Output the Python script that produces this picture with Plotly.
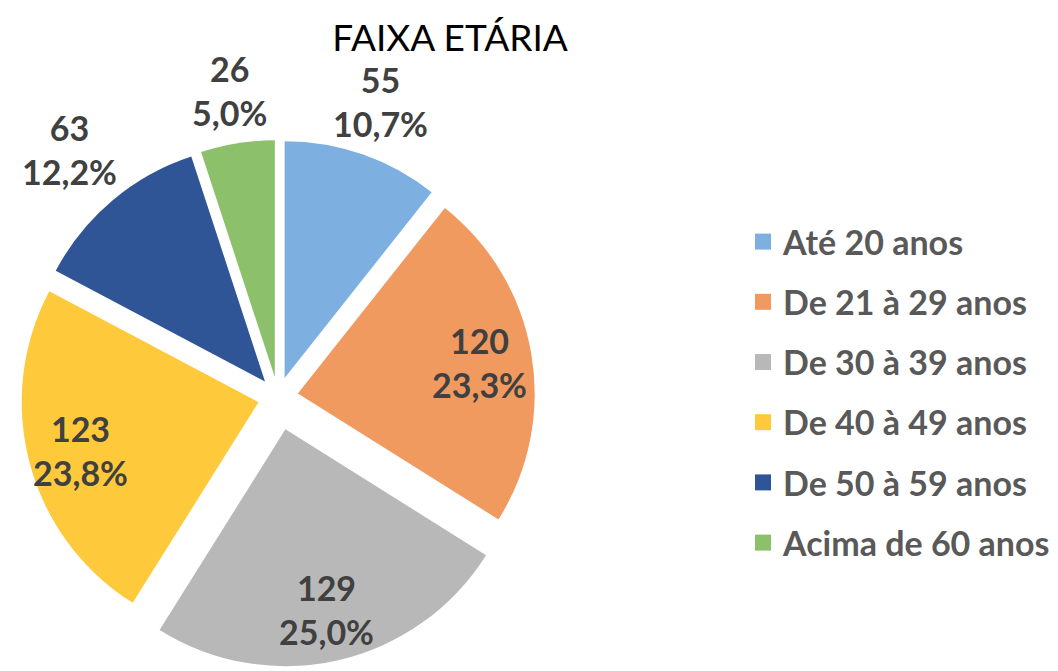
import math
import plotly.graph_objects as go

categories = ["Até 20 anos", "De 21 à 29 anos", "De 30 à 39 anos",
              "De 40 à 49 anos", "De 50 à 59 anos", "Acima de 60 anos"]
values = [55, 120, 129, 123, 63, 26]
colors = ["#7DB0E0", "#F09A60", "#B8B8B8", "#FFC93C", "#2F5597", "#8CC06B"]
pulls = [0.085, 0.085, 0.14, 0.085, 0.085, 0.085]
label_inside = [False, True, True, True, False, False]

W, H = 1050, 663
CX, CY, HALF = 270, 389, 270          # pie domain centre / half-size in pixels
LABEL_FS = 34

fig = go.Figure()
fig.add_trace(go.Pie(
    labels=categories, values=values, sort=False, direction="clockwise",
    rotation=0, pull=pulls,
    marker=dict(colors=colors, line=dict(width=0)),
    textinfo="none",
    domain=dict(x=[(CX - HALF) / W, (CX + HALF) / W],
                y=[1 - (CY + HALF) / H, 1 - (CY - HALF) / H]),
    showlegend=False, hoverinfo="label+value+percent",
))

# data labels, positioned from the slice geometry (same rules plotly uses for the pie)
total = sum(values)
R = HALF / (1 + max(pulls))
cum = 0
for v, p, inside in zip(values, pulls, label_inside):
    mid = (cum + v / 2) / total * 2 * math.pi
    cum += v
    sx, sy = math.sin(mid), -math.cos(mid)
    pct = f"{v / total * 100:.1f}".replace(".", ",")
    txt = f"{v}<br>{pct}%"
    if inside:
        d = p * R + 0.78 * R
    else:
        w = 0.56 * len(pct + "%") * LABEL_FS
        h = 2 * 1.32 * LABEL_FS
        ext = min(w / 2 / max(abs(sx), 1e-6), h / 2 / max(abs(sy), 1e-6))
        d = p * R + R + 8 + ext
    px, py = CX + sx * d, CY + sy * d
    fig.add_annotation(x=px / W, y=1 - py / H, xref="paper", yref="paper",
                       text=txt, showarrow=False, xanchor="center", yanchor="middle",
                       font=dict(family="Lato", size=LABEL_FS, color="#404040", weight="bold"))

for cat, col in zip(categories, colors):
    fig.add_trace(go.Scatter(
        x=[None], y=[None], mode="markers", name=cat,
        marker=dict(symbol="square", size=16, color=col),
        legendgroup=cat, showlegend=True,
    ))

fig.update_layout(
    width=W, height=H,
    margin=dict(l=0, r=0, t=0, b=0, autoexpand=False),
    paper_bgcolor="white", plot_bgcolor="white",
    separators=",.",
    title=dict(text="FAIXA ETÁRIA", x=442 / W, xref="container", xanchor="center",
               y=1 - 30 / H, yref="container", yanchor="middle",
               font=dict(family="Lato", size=37, color="#000000")),
    legend=dict(x=735 / W, y=1 - 205 / H, xanchor="left", yanchor="top",
                font=dict(family="Lato", size=34, color="#595959", weight="bold"),
                tracegroupgap=13, bgcolor="rgba(0,0,0,0)"),
    xaxis=dict(visible=False), yaxis=dict(visible=False),
)

fig.write_html("out.html")
